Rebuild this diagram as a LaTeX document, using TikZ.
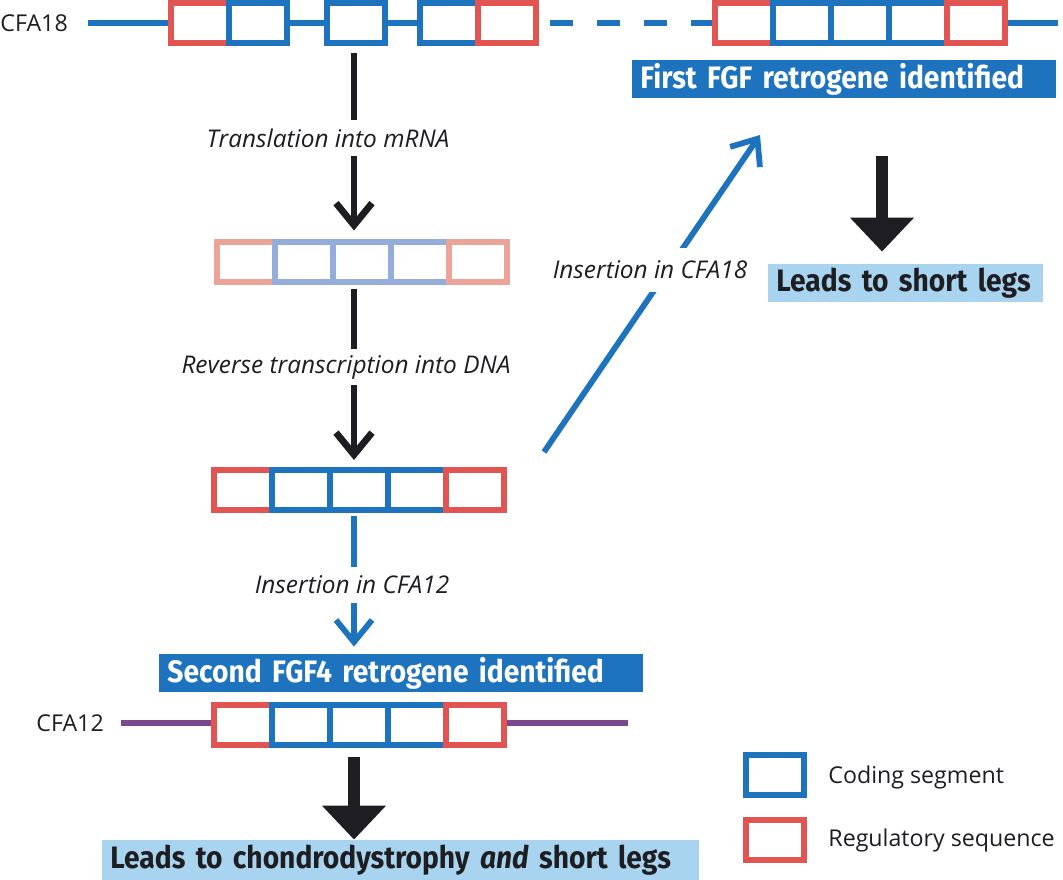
\documentclass[tikz,border=0pt]{standalone}
\usepackage{fontspec}
\setmainfont{Open Sans}
\newfontfamily\bannerfont[FakeStretch=0.91]{Fira Sans}
\usetikzlibrary{positioning,arrows.meta}

\definecolor{genblue}{RGB}{30,115,190}
\definecolor{genred}{RGB}{226,84,82}
\definecolor{rnablue}{RGB}{148,174,220}
\definecolor{rnared}{RGB}{236,164,152}
\definecolor{legsblue}{RGB}{168,212,240}
\definecolor{chrpurple}{RGB}{122,72,140}
\definecolor{inkblack}{RGB}{30,30,34}

\tikzset{
  segbox/.style={draw, fill=white, line width=3pt, minimum width=29pt, minimum height=20pt, inner sep=0pt, outer sep=0pt},
  codebox/.style={segbox, draw=genblue},
  regbox/.style={segbox, draw=genred},
  rnacode/.style={segbox, draw=rnablue},
  rnareg/.style={segbox, draw=rnared},
  steplabel/.style={font=\fontsize{12.2}{14}\selectfont\itshape, text=inkblack, inner sep=0pt, minimum height=18pt},
  chrlabel/.style={font=\fontsize{11.6}{13}\selectfont, text=inkblack, inner sep=0pt},
  blackstem/.style={inkblack, line width=3.4pt},
  bluestem/.style={genblue, line width=2.9pt},
  barb/.style={-{Straight Barb[length=11pt,width=18pt]}},
  bigarrow/.style={inkblack, line width=6pt, -{Triangle[length=17pt,width=31pt]}},
  banner/.style={anchor=west, inner xsep=4pt, inner ysep=0pt, minimum height=19pt, align=left, font=\bannerfont\bfseries\fontsize{15.5}{17}\selectfont},
}

\begin{document}
\begin{tikzpicture}[x=0.5pt, y=-0.5pt]
  \useasboundingbox (0,0) rectangle (1063,879);

  % CFA18 with the first retrogene
  \node[chrlabel, anchor=west] (cfa18) at (0,23) {CFA18};
  \node[regbox] (a1) at (200,23) {};
  \node[codebox, right=0pt of a1] (a2) {};
  \node[codebox] (a3) at (356,23) {};
  \node[codebox] (a4) at (449,23) {};
  \node[regbox, right=0pt of a4] (a5) {};
  \node[regbox] (b1) at (744,23) {};
  \node[codebox, right=0pt of b1] (b2) {};
  \node[codebox, right=0pt of b2] (b3) {};
  \node[codebox, right=0pt of b3] (b4) {};
  \node[regbox, right=0pt of b4] (b5) {};
  \coordinate (s18) at (88,23);
  \coordinate (e18) at (1058,23);
  \draw[genblue, line width=3pt, shorten >=1.5pt] (s18) -- (a1.west);
  \draw[genblue, line width=3pt, shorten <=1.5pt, shorten >=1.5pt] (a2.east) -- (a3.west);
  \draw[genblue, line width=3pt, shorten <=1.5pt, shorten >=1.5pt] (a3.east) -- (a4.west);
  \draw[genblue, line width=3pt, dash pattern=on 11.5pt off 12pt, dash phase=16.5pt, shorten >=1.5pt] (a5.east) -- (b1.west);
  \draw[genblue, line width=3pt, shorten <=1.5pt] (b5.east) -- (e18);

  \node[banner, fill=genblue, text=white, text width=204pt] (first) at (632,79) {First FGF retrogene identified};

  % Translation
  \coordinate (col) at (354,0);
  \node[steplabel] (transl) at (328,138) {Translation into mRNA};

  % mRNA
  \node[rnareg] (m1) at (245.5,261.5) {};
  \node[rnacode, right=0pt of m1] (m2) {};
  \node[rnacode, right=0pt of m2] (m3) {};
  \node[rnacode, right=0pt of m3] (m4) {};
  \node[rnareg, right=0pt of m4] (m5) {};
  \draw[blackstem, shorten <=5pt] (col |- a3.south) -- (col |- transl.north);
  \draw[blackstem, barb, shorten >=5.5pt] (col |- transl.south) -- (col |- m3.north);

  % Reverse transcription
  \node[steplabel] (revtr) at (346,367) {Reverse transcription into DNA};

  % DNA
  \node[regbox] (d1) at (243,490) {};
  \node[codebox, right=0pt of d1] (d2) {};
  \node[codebox, right=0pt of d2] (d3) {};
  \node[codebox, right=0pt of d3] (d4) {};
  \node[regbox, right=0pt of d4] (d5) {};
  \draw[blackstem, shorten <=3.5pt] (col |- m3.south) -- (col |- revtr.north);
  \draw[blackstem, barb, shorten >=5pt] (col |- revtr.south) -- (col |- d3.north);

  % Insertion in CFA18
  \coordinate (ins18a) at (544,452);
  \coordinate (ins18b) at (760,135);
  \draw[bluestem, barb] (ins18a) -- (ins18b);
  \node[steplabel, fill=white, minimum height=22pt] (ins18) at (650,270) {Insertion in CFA18};

  % Insertion in CFA12
  \node[steplabel] (ins12) at (352,585) {Insertion in CFA12};
  \node[banner, fill=genblue, text=white, text width=234pt] (second) at (159,673) {Second FGF4 retrogene identified};
  \draw[bluestem, shorten <=3pt] (col |- d3.south) -- (col |- ins12.north);
  \draw[bluestem, barb, shorten >=3.5pt] (col |- ins12.south) -- (col |- second.north);

  % CFA12 with the second retrogene
  \node[chrlabel, anchor=west] (cfa12) at (36,723) {CFA12};
  \node[regbox] (c1) at (243,725) {};
  \node[codebox, right=0pt of c1] (c2) {};
  \node[codebox, right=0pt of c2] (c3) {};
  \node[codebox, right=0pt of c3] (c4) {};
  \node[regbox, right=0pt of c4] (c5) {};
  \coordinate (s12) at (121,723);
  \coordinate (e12) at (628,723);
  \draw[chrpurple, line width=3pt, shorten >=1.5pt] (s12) -- (c1.west |- s12);
  \draw[chrpurple, line width=3pt, shorten <=1.5pt] (c5.east |- e12) -- (e12);

  % Effects
  \node[banner, fill=legsblue, text=inkblack, text width=290.5pt, minimum height=20pt] (chondro) at (102,860) {Leads to chondrodystrophy \textit{and} short legs};
  \draw[bigarrow, shorten <=6pt] (col |- c3.south) -- (col |- chondro.north);
  \node[banner, fill=legsblue, text=inkblack, text width=129.5pt] (short) at (768,283) {Leads to short legs};
  \coordinate (col18) at (882,0);
  \draw[bigarrow, shorten <=29pt, shorten >=6pt] (col18 |- first.south) -- (col18 |- short.north);

  % Legend
  \node[codebox] (legcode) at (775,774.5) {};
  \node[regbox] (legreg) at (775,840) {};
  \node[chrlabel, anchor=west] (legcodetxt) at (828,777) {Coding segment};
  \node[chrlabel, anchor=west] (legregtxt) at (828,840) {Regulatory sequence};

\end{tikzpicture}
\end{document}
